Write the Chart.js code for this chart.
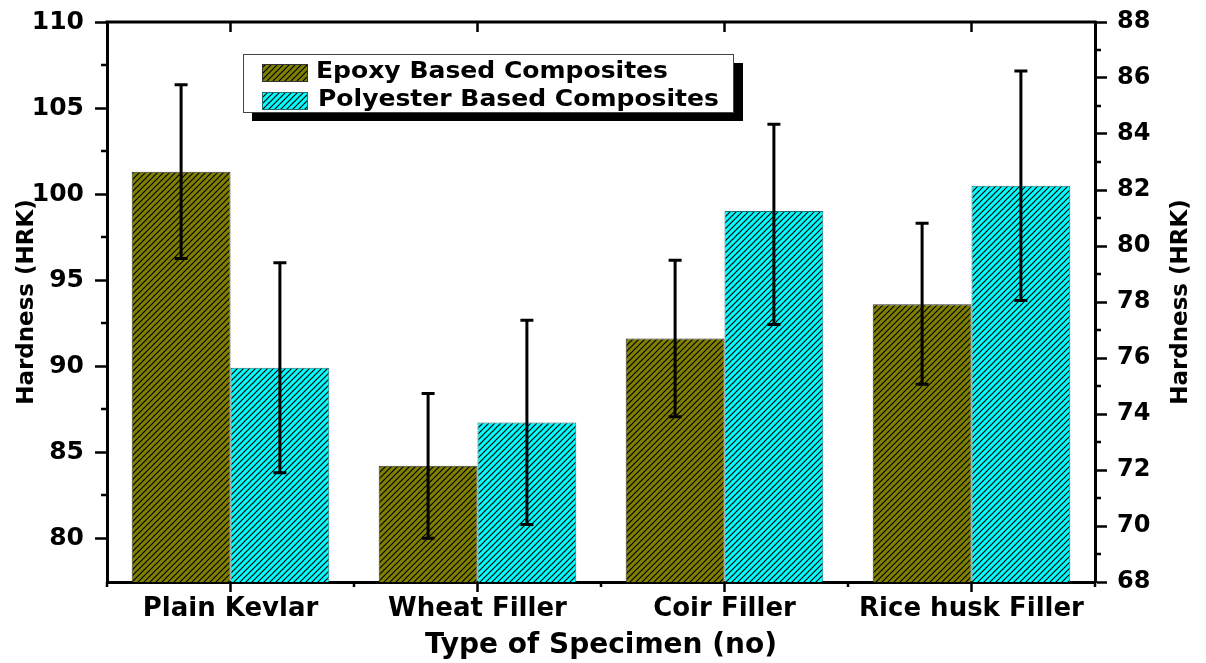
<!DOCTYPE html>
<html>
<head>
<meta charset="utf-8">
<script src="https://cdn.jsdelivr.net/npm/chart.js@4.4.1/dist/chart.umd.min.js"></script>
<style>
  html, body { margin: 0; padding: 0; background: #fff; }
  #wrap { width: 1206px; height: 663px; position: relative; }
</style>
</head>
<body>
<div id="wrap"><canvas id="hardness"></canvas></div>
<script>
// data
const categories = ['Plain Kevlar', 'Wheat Filler', 'Coir Filler', 'Rice husk Filler'];
const epoxyHardness = [101.3, 84.2, 91.6, 93.6];
const epoxyErrUp = [5.05, 4.2, 4.55, 4.7];
const epoxyErrDown = [5.05, 4.2, 4.55, 4.65];
// polyester is read on the right-hand axis
const polyesterHardness = [75.65, 73.7, 81.25, 82.15];
const polyesterErrUp = [3.75, 3.65, 3.1, 4.1];
const polyesterErrDown = [3.75, 3.65, 4.05, 4.1];
const leftTicks = [80, 85, 90, 95, 100, 105, 110];
const rightTicks = [68, 70, 72, 74, 76, 78, 80, 82, 84, 86, 88];
const seriesNames = ['Epoxy Based Composites', 'Polyester Based Composites'];

const FONT = "'DejaVu Sans', sans-serif";
Chart.defaults.font.family = FONT;
Chart.defaults.font.weight = 'bold';
Chart.defaults.color = '#000';

// diagonal hatch fill like the origin plot
function hatch(bg) {
    const c = document.createElement('canvas');
    c.width = 6; c.height = 6;
    const g = c.getContext('2d');
    g.fillStyle = bg;
    g.fillRect(0, 0, 6, 6);
    g.strokeStyle = '#000';
    g.lineWidth = 1.2;
    g.beginPath();
    g.moveTo(0, 6); g.lineTo(6, 0);
    g.moveTo(-1, 1); g.lineTo(1, -1);
    g.moveTo(5, 7); g.lineTo(7, 5);
    g.stroke();
    return g.createPattern(c, 'repeat');
}
const olive = hatch('#808000');
const cyan = hatch('#00ffff');

// error bars, drawn through the scales
const errorBars = {
    id: 'errorBars',
    afterDatasetsDraw(chart) {
        const ctx = chart.ctx;
        ctx.save();
        ctx.strokeStyle = '#000';
        ctx.lineWidth = 3;
        chart.data.datasets.forEach((ds, i) => {
            const meta = chart.getDatasetMeta(i);
            const scale = chart.scales[ds.yAxisID];
            meta.data.forEach((bar, j) => {
                const v = ds.data[j];
                const yTop = scale.getPixelForValue(v + ds.errUp[j]);
                const yBot = scale.getPixelForValue(v - ds.errDown[j]);
                ctx.beginPath();
                ctx.moveTo(bar.x, yTop); ctx.lineTo(bar.x, yBot);
                ctx.moveTo(bar.x - 6.5, yTop); ctx.lineTo(bar.x + 6.5, yTop);
                ctx.moveTo(bar.x - 6.5, yBot); ctx.lineTo(bar.x + 6.5, yBot);
                ctx.stroke();
            });
        });
        ctx.restore();
    }
};

// top frame, minor ticks, right title, boxed legend
const frame = {
    id: 'frame',
    afterDraw(chart) {
        const { ctx, chartArea: a } = chart;
        const { x, y, y2 } = chart.scales;
        ctx.save();
        ctx.strokeStyle = '#000';
        ctx.lineWidth = 3;
        ctx.beginPath();
        ctx.moveTo(a.left - 1.5, a.top); ctx.lineTo(a.right + 1.5, a.top);
        ctx.stroke();

        ctx.lineWidth = 2.5;
        ctx.beginPath();
        categories.forEach((c, i) => {
            const px = x.getPixelForTick(i);
            ctx.moveTo(px, a.top); ctx.lineTo(px, a.top + 10);
        });
        for (let i = 0; i <= categories.length; i++) {
            const px = x.getPixelForValue(i - 0.5);
            ctx.moveTo(px, a.bottom); ctx.lineTo(px, a.bottom + 5);
        }
        for (let v = 82.5; v < 110; v += 5) {
            const py = y.getPixelForValue(v);
            ctx.moveTo(a.left - 6, py); ctx.lineTo(a.left, py);
        }
        for (let v = 69; v < 88; v += 2) {
            const py = y2.getPixelForValue(v);
            ctx.moveTo(a.right, py); ctx.lineTo(a.right + 6, py);
        }
        ctx.stroke();

        // right axis title, reading upward
        ctx.fillStyle = '#000';
        ctx.font = 'bold 23px ' + FONT;
        ctx.textAlign = 'center';
        ctx.textBaseline = 'middle';
        ctx.translate(1181, (a.top + a.bottom) / 2);
        ctx.rotate(-Math.PI / 2);
        ctx.fillText('Hardness (HRK)', 0, 0);
        ctx.restore();

        // legend box with drop shadow
        ctx.save();
        ctx.fillStyle = '#000';
        ctx.fillRect(252, 63, 491, 58);
        ctx.fillStyle = '#fff';
        ctx.fillRect(243, 54, 491, 59);
        ctx.strokeStyle = '#444';
        ctx.lineWidth = 1;
        ctx.strokeRect(243.5, 54.5, 490, 58);
        const fills = [olive, cyan];
        const borders = ['#333', '#1f6f6f'];
        const rows = [72, 100];
        ctx.font = 'bold 23px ' + FONT;
        const sx = 352 / ctx.measureText(seriesNames[0]).width;
        seriesNames.forEach((name, i) => {
            ctx.fillStyle = fills[i];
            ctx.fillRect(262, rows[i] - 8, 46, 18);
            ctx.strokeStyle = borders[i];
            ctx.strokeRect(262.5, rows[i] - 7.5, 45, 17);
            ctx.save();
            ctx.fillStyle = '#000';
            ctx.textBaseline = 'middle';
            ctx.translate(316 + i * 2, rows[i]);
            ctx.scale(sx, 1);
            ctx.fillText(name, 0, 0);
            ctx.restore();
        });
        ctx.restore();
    }
};

new Chart(document.getElementById('hardness'), {
    type: 'bar',
    data: {
        labels: categories,
        datasets: [
            {
                label: seriesNames[0],
                data: epoxyHardness,
                errUp: epoxyErrUp,
                errDown: epoxyErrDown,
                yAxisID: 'y',
                backgroundColor: olive,
                borderColor: '#333',
                borderWidth: 1,
                categoryPercentage: 0.8,
                barPercentage: 1.0
            },
            {
                label: seriesNames[1],
                data: polyesterHardness,
                errUp: polyesterErrUp,
                errDown: polyesterErrDown,
                yAxisID: 'y2',
                backgroundColor: cyan,
                borderColor: '#1f6f6f',
                borderWidth: 1,
                categoryPercentage: 0.8,
                barPercentage: 1.0
            }
        ]
    },
    options: {
        responsive: true,
        maintainAspectRatio: false,
        animation: false,
        layout: { padding: { top: 22, left: 0, right: 0, bottom: 0 } },
        plugins: {
            legend: { display: false },
            tooltip: { enabled: false }
        },
        scales: {
            x: {
                type: 'category',
                offset: true,
                grid: { offset: false, drawOnChartArea: false, tickLength: 10, tickWidth: 2.5, tickColor: '#000' },
                border: { color: '#000', width: 3 },
                ticks: { color: '#000', font: { size: 26, weight: 'bold' }, padding: 2, maxRotation: 0, autoSkip: false },
                title: { display: true, text: 'Type of Specimen (no)', color: '#000', font: { size: 28, weight: 'bold' }, padding: 0 },
                afterFit: (s) => { s.height = 81; }
            },
            y: {
                type: 'linear',
                position: 'left',
                min: 77.45,
                max: 110,
                afterBuildTicks: (s) => { s.ticks = leftTicks.map((value) => ({ value })); },
                grid: { drawOnChartArea: false, tickLength: 12, tickWidth: 2.5, tickColor: '#000' },
                border: { color: '#000', width: 3 },
                ticks: { color: '#000', font: { size: 25, weight: 'bold' }, padding: 11 },
                title: { display: true, text: 'Hardness (HRK)', color: '#000', font: { size: 23, weight: 'bold' }, padding: { top: 13, bottom: 0 } },
                afterFit: (s) => { s.width = 107; s.paddingTop = 0; s.paddingBottom = 0; }
            },
            y2: {
                type: 'linear',
                position: 'right',
                min: 68,
                max: 88,
                afterBuildTicks: (s) => { s.ticks = rightTicks.map((value) => ({ value })); },
                grid: { drawOnChartArea: false, tickLength: 12, tickWidth: 2.5, tickColor: '#000' },
                border: { color: '#000', width: 3 },
                ticks: { color: '#000', font: { size: 24, weight: 'bold' }, padding: 10 },
                afterFit: (s) => { s.width = 111; s.paddingTop = 0; s.paddingBottom = 0; }
            }
        }
    },
    plugins: [errorBars, frame]
});
</script>
</body>
</html>
